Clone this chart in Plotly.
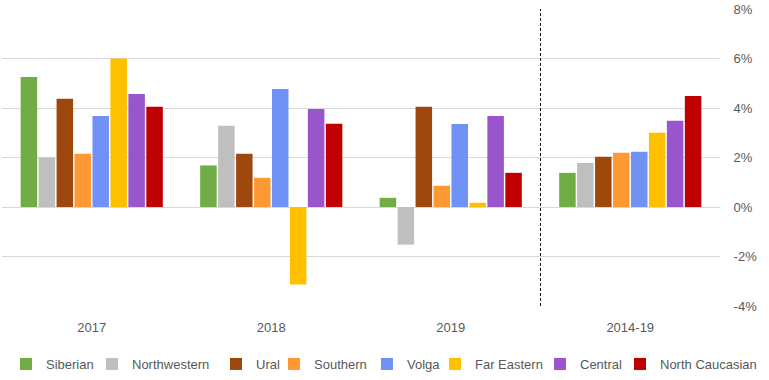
import plotly.graph_objects as go

categories = ["2017", "2018", "2019", "2014-19"]
regions = ["Siberian", "Northwestern", "Ural", "Southern", "Volga", "Far Eastern", "Central", "North Caucasian"]
colors = ["#70ad47", "#bfbfbf", "#9e480e", "#ff9933", "#7091f5", "#ffc000", "#9955cc", "#c00000"]

siberian = [5.25, 1.68, 0.37, 1.38]
northwestern = [2.0, 3.28, -1.52, 1.78]
ural = [4.37, 2.15, 4.05, 2.03]
southern = [2.15, 1.18, 0.86, 2.19]
volga = [3.68, 4.77, 3.35, 2.23]
far_eastern = [6.0, -3.13, 0.17, 3.0]
central = [4.57, 3.96, 3.68, 3.48]
north_caucasian = [4.05, 3.36, 1.38, 4.48]

series = [siberian, northwestern, ural, southern, volga, far_eastern, central, north_caucasian]

tick_vals = [-4, -2, 0, 2, 4, 6, 8]
tick_text = ["-4%", "-2%", "0%", "2%", "4%", "6%", "8%"]

# legend symbol centre positions (px) in the page
legend_symbol_px = [29, 115, 239, 297, 390, 458, 563, 643]

W, H = 769, 380
font_family = "Liberation Sans, Arial, sans-serif"
txt_color = "#595959"

fig = go.Figure()
legend_layouts = {}
for i, (name, vals, col) in enumerate(zip(regions, series, colors)):
    lname = "legend" if i == 0 else f"legend{i + 1}"
    fig.add_trace(go.Bar(x=categories, y=vals, name=name, legend=lname,
                         marker=dict(color=col, line=dict(width=0))))
    legend_layouts[lname] = dict(
        orientation="h", xref="container", yref="container",
        x=(legend_symbol_px[i] - 23) / W, xanchor="left",
        y=1 - 364 / H, yanchor="middle",
        bgcolor="rgba(0,0,0,0)", borderwidth=0, itemwidth=30,
        font=dict(family=font_family, size=13, color=txt_color),
    )

fig.add_shape(type="line", xref="x", yref="paper", x0=2.5, x1=2.5, y0=0, y1=1,
              line=dict(color="#111111", width=1, dash="3px,2px"))

fig.update_layout(
    width=W, height=H,
    margin=dict(l=2, r=49, t=9, b=74, autoexpand=False),
    plot_bgcolor="white", paper_bgcolor="white",
    barmode="group", bargap=0.2, bargroupgap=0.08,
    font=dict(family=font_family, size=13, color=txt_color),
    showlegend=True,
    xaxis=dict(showgrid=False, showline=False, ticks="outside", ticklen=9,
               tickcolor="rgba(0,0,0,0)", automargin=False,
               tickfont=dict(size=13, color=txt_color)),
    yaxis=dict(side="right", range=[-4, 8], tickvals=tick_vals, ticktext=tick_text,
               showgrid=True, gridcolor="#d9d9d9", gridwidth=1,
               zeroline=True, zerolinecolor="#d9d9d9", zerolinewidth=1,
               automargin=False, ticks="outside", ticklen=10, tickcolor="rgba(0,0,0,0)",
               tickfont=dict(size=13, color=txt_color)),
    **legend_layouts,
)

fig.write_html("out.html", config={"displayModeBar": False},
               post_script="document.body.style.margin='0';")
